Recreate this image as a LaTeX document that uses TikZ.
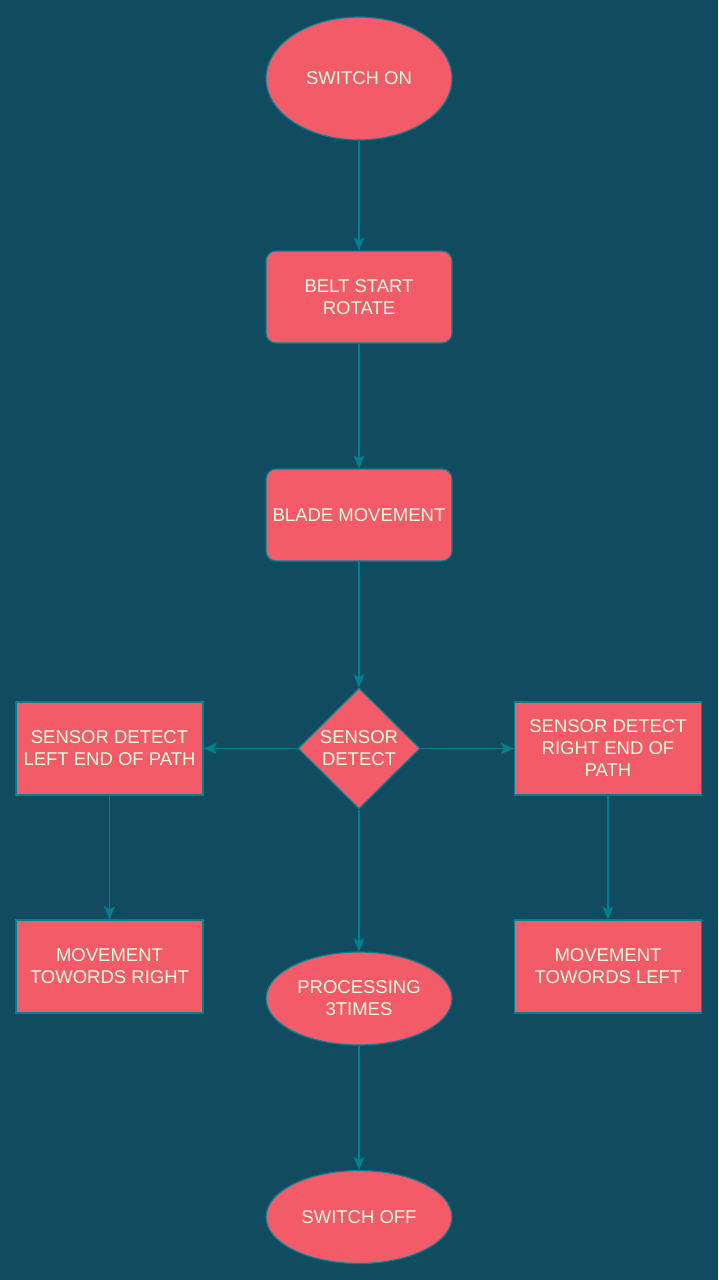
\documentclass[tikz,border=0pt]{standalone}
\usepackage{fontspec}
\setmainfont{Liberation Sans}
\usetikzlibrary{shapes.geometric,arrows.meta}
\definecolor{bgc}{HTML}{114B5F}
\definecolor{fillc}{HTML}{F45B69}
\definecolor{linec}{HTML}{028090}
\definecolor{textc}{HTML}{E4FDE1}
\tikzset{
  base/.style={draw=linec, fill=fillc, line width=1.2pt, text=textc, align=center,
    font=\fontsize{18.5}{22}\selectfont, inner sep=0pt},
  ell/.style={base, ellipse, minimum width=186pt},
  rbox/.style={base, rectangle, rounded corners=10pt, minimum width=186pt, minimum height=92pt},
  sbox/.style={base, rectangle, minimum width=187pt, minimum height=93pt},
  dia/.style={base, diamond, minimum width=122pt, minimum height=121pt, aspect=1},
  conn/.style={draw=linec, line width=1.5pt, -{Stealth[length=13pt,width=11pt,inset=3pt]}}
}
\begin{document}
\begin{tikzpicture}[x=1pt,y=-1pt]
\fill[bgc] (0,0) rectangle (718,1280);
\useasboundingbox (0,0) rectangle (718,1280);
\node[ell, minimum height=123pt] (on) at (359,78.5) {SWITCH ON};
\node[rbox] (belt) at (359,297) {BELT START\\ROTATE};
\node[rbox] (blade) at (359,515) {BLADE MOVEMENT};
\node[dia] (det) at (359,748.5) {SENSOR\\DETECT};
\node[sbox] (left) at (109.5,748.5) {SENSOR DETECT\\LEFT END OF PATH};
\node[sbox] (right) at (608,748.5) {SENSOR DETECT\\RIGHT END OF\\PATH};
\node[sbox] (mright) at (109.5,966.5) {MOVEMENT\\TOWORDS RIGHT};
\node[sbox] (mleft) at (608,966.5) {MOVEMENT\\TOWORDS LEFT};
\node[ell, minimum height=93pt] (proc) at (359,998.5) {PROCESSING\\3TIMES};
\node[ell, minimum height=93pt] (off) at (359,1217) {SWITCH OFF};
\draw[conn] (on) -- (belt);
\draw[conn] (belt) -- (blade);
\draw[conn] (blade) -- (det);
\draw[conn] (det) -- (left);
\draw[conn] (det) -- (right);
\draw[conn] (left) -- (mright);
\draw[conn] (right) -- (mleft);
\draw[conn] (det) -- (proc);
\draw[conn] (proc) -- (off);
\end{tikzpicture}
\end{document}
